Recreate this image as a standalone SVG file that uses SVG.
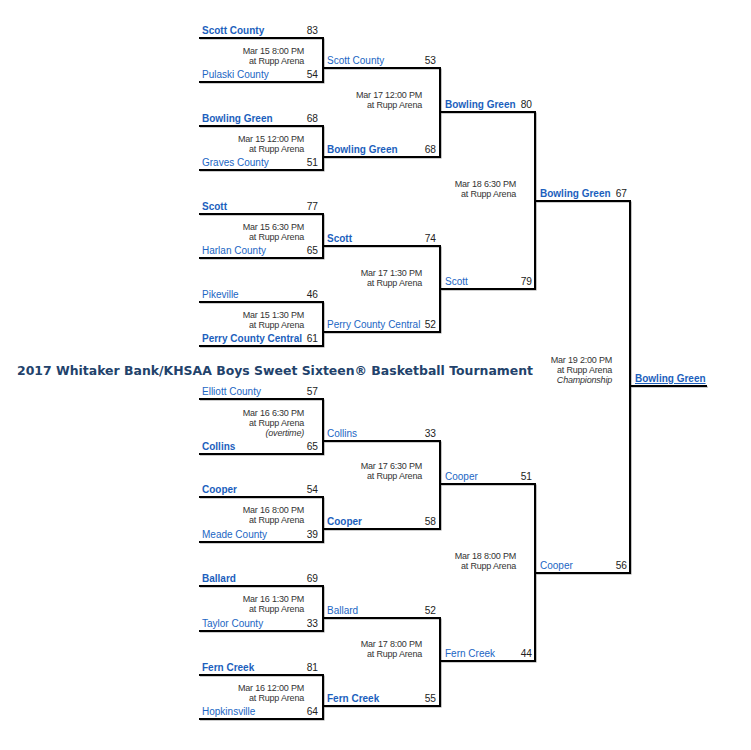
<svg xmlns="http://www.w3.org/2000/svg" width="751" height="750" viewBox="0 0 751 750">
<style>
.t{font-family:"Liberation Sans",Arial,sans-serif;font-size:10px;fill:#2166c4}
.b{font-weight:bold;fill:#1c5fbd}
.s{font-family:"Liberation Sans",Arial,sans-serif;font-size:10.2px;fill:#222;text-anchor:end}
.d{font-family:"Liberation Sans",Arial,sans-serif;font-size:9px;letter-spacing:-0.2px;fill:#333;text-anchor:end}
.i{font-style:italic}
.ttl{font-family:"DejaVu Sans",Verdana,sans-serif;font-size:11.5px;font-weight:bold;fill:#22426b}
.ln{fill:none;stroke:#000;stroke-width:2}
.sh{fill:none;stroke:#9a9a9a;stroke-width:1.2}
</style>
<rect width="751" height="750" fill="#fff"/>
<text class="ttl" x="17" y="375" textLength="516" lengthAdjust="spacingAndGlyphs">2017 Whitaker Bank/KHSAA Boys Sweet Sixteen® Basketball Tournament</text>
<defs>
<g id="bracket">
<path d="M199 38H323V82H199M199 126H323V170H199M199 214H323V258H199M199 302H323V346H199M199 399H323V454H199M199 497H323V542H199M199 586H323V631H199M199 675H323V719H199"/>
<path d="M323 68H440V157H323M323 246H440V332H323M323 441H440V529H323M323 618H440V706H323"/>
<path d="M440 112H535V289H440M440 484H535V661H440"/>
<path d="M535 201H630V573H535"/>
<path d="M630 386H707"/>
</g>
</defs>
<g id="connectors">
<use href="#bracket" class="sh" transform="translate(1,1)"/>
<use href="#bracket" class="ln"/>
</g>
<g id="game-r1-1">
<text class="t b" x="202" y="34">Scott County</text><text class="s" x="318" y="34">83</text>
<text class="t" x="202" y="78">Pulaski County</text><text class="s" x="318" y="78">54</text>
<text class="d" x="304" y="54">Mar 15 8:00 PM</text><text class="d" x="304" y="64">at Rupp Arena</text>
</g>
<g id="game-r1-2">
<text class="t b" x="202" y="122">Bowling Green</text><text class="s" x="318" y="122">68</text>
<text class="t" x="202" y="166">Graves County</text><text class="s" x="318" y="166">51</text>
<text class="d" x="304" y="142">Mar 15 12:00 PM</text><text class="d" x="304" y="152">at Rupp Arena</text>
</g>
<g id="game-r1-3">
<text class="t b" x="202" y="210">Scott</text><text class="s" x="318" y="210">77</text>
<text class="t" x="202" y="254">Harlan County</text><text class="s" x="318" y="254">65</text>
<text class="d" x="304" y="230">Mar 15 6:30 PM</text><text class="d" x="304" y="240">at Rupp Arena</text>
</g>
<g id="game-r1-4">
<text class="t" x="202" y="298">Pikeville</text><text class="s" x="318" y="298">46</text>
<text class="t b" x="202" y="342">Perry County Central</text><text class="s" x="318" y="342">61</text>
<text class="d" x="304" y="318">Mar 15 1:30 PM</text><text class="d" x="304" y="328">at Rupp Arena</text>
</g>
<g id="game-r1-5">
<text class="t" x="202" y="395">Elliott County</text><text class="s" x="318" y="395">57</text>
<text class="t b" x="202" y="450">Collins</text><text class="s" x="318" y="450">65</text>
<text class="d" x="304" y="416">Mar 16 6:30 PM</text><text class="d" x="304" y="426">at Rupp Arena</text><text class="d i" x="304" y="436">(overtime)</text>
</g>
<g id="game-r1-6">
<text class="t b" x="202" y="493">Cooper</text><text class="s" x="318" y="493">54</text>
<text class="t" x="202" y="538">Meade County</text><text class="s" x="318" y="538">39</text>
<text class="d" x="304" y="513">Mar 16 8:00 PM</text><text class="d" x="304" y="523">at Rupp Arena</text>
</g>
<g id="game-r1-7">
<text class="t b" x="202" y="582">Ballard</text><text class="s" x="318" y="582">69</text>
<text class="t" x="202" y="627">Taylor County</text><text class="s" x="318" y="627">33</text>
<text class="d" x="304" y="602">Mar 16 1:30 PM</text><text class="d" x="304" y="612">at Rupp Arena</text>
</g>
<g id="game-r1-8">
<text class="t b" x="202" y="671">Fern Creek</text><text class="s" x="318" y="671">81</text>
<text class="t" x="202" y="715">Hopkinsville</text><text class="s" x="318" y="715">64</text>
<text class="d" x="304" y="691">Mar 16 12:00 PM</text><text class="d" x="304" y="701">at Rupp Arena</text>
</g>
<g id="game-r2-1">
<text class="t" x="327" y="64">Scott County</text><text class="s" x="436" y="64">53</text>
<text class="t b" x="327" y="153">Bowling Green</text><text class="s" x="436" y="153">68</text>
<text class="d" x="422" y="98">Mar 17 12:00 PM</text><text class="d" x="422" y="108">at Rupp Arena</text>
</g>
<g id="game-r2-2">
<text class="t b" x="327" y="242">Scott</text><text class="s" x="436" y="242">74</text>
<text class="t" x="327" y="328">Perry County Central</text><text class="s" x="436" y="328">52</text>
<text class="d" x="422" y="276">Mar 17 1:30 PM</text><text class="d" x="422" y="286">at Rupp Arena</text>
</g>
<g id="game-r2-3">
<text class="t" x="327" y="437">Collins</text><text class="s" x="436" y="437">33</text>
<text class="t b" x="327" y="525">Cooper</text><text class="s" x="436" y="525">58</text>
<text class="d" x="422" y="469">Mar 17 6:30 PM</text><text class="d" x="422" y="479">at Rupp Arena</text>
</g>
<g id="game-r2-4">
<text class="t" x="327" y="614">Ballard</text><text class="s" x="436" y="614">52</text>
<text class="t b" x="327" y="702">Fern Creek</text><text class="s" x="436" y="702">55</text>
<text class="d" x="422" y="647">Mar 17 8:00 PM</text><text class="d" x="422" y="657">at Rupp Arena</text>
</g>
<g id="game-r3-1">
<text class="t b" x="445" y="108">Bowling Green</text><text class="s" x="532" y="108">80</text>
<text class="t" x="445" y="285">Scott</text><text class="s" x="532" y="285">79</text>
<text class="d" x="516" y="187">Mar 18 6:30 PM</text><text class="d" x="516" y="197">at Rupp Arena</text>
</g>
<g id="game-r3-2">
<text class="t" x="445" y="480">Cooper</text><text class="s" x="532" y="480">51</text>
<text class="t" x="445" y="657">Fern Creek</text><text class="s" x="532" y="657">44</text>
<text class="d" x="516" y="559">Mar 18 8:00 PM</text><text class="d" x="516" y="569">at Rupp Arena</text>
</g>
<g id="game-final">
<text class="t b" x="540" y="197">Bowling Green</text><text class="s" x="627" y="197">67</text>
<text class="t" x="540" y="569">Cooper</text><text class="s" x="627" y="569">56</text>
<text class="d" x="612" y="363">Mar 19 2:00 PM</text><text class="d" x="612" y="373">at Rupp Arena</text><text class="d i" x="612" y="383">Championship</text>
</g>
<g id="champion">
<text class="t b" x="635" y="382" text-decoration="underline">Bowling Green</text>
</g>
</svg>
